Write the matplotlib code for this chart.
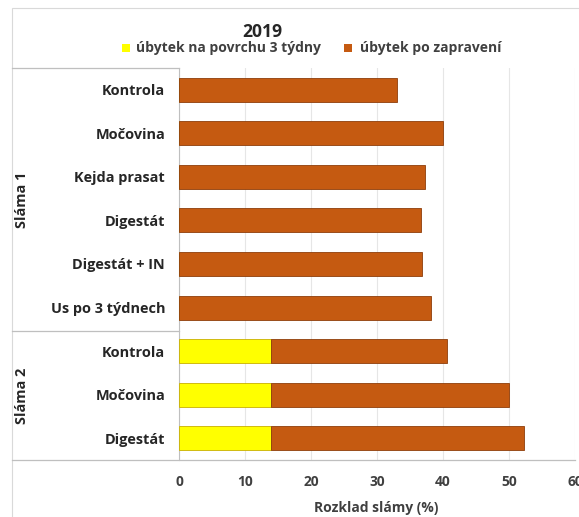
import matplotlib
matplotlib.use("Agg")
import matplotlib.pyplot as plt
from matplotlib.lines import Line2D
from matplotlib.patches import Rectangle

FAM = ['Open Sans', 'DejaVu Sans']
plt.rcParams['font.family'] = FAM

title = "2019"
categories = ["Kontrola", "Močovina", "Kejda prasat", "Digestát", "Digestát + IN",
              "Us po 3 týdnech", "Kontrola", "Močovina", "Digestát"]
groups = ["Sláma 1", "Sláma 2"]
group_sizes = [6, 3]
surface_loss = [0, 0, 0, 0, 0, 0, 13.9, 13.9, 13.9]
after_loss = [33.0, 40.0, 37.2, 36.7, 36.8, 38.2, 26.7, 36.1, 38.4]
series_names = ["úbytek na povrchu 3 týdny", "úbytek po zapravení"]
xticks = [0, 10, 20, 30, 40, 50, 60]
xlabel = "Rozklad slámy (%)"

yellow = "#FFFF00"
brown = "#C55A11"
series_colors = [yellow, brown]

W, H = 579, 517
fig = plt.figure(figsize=(W / 100, H / 100), dpi=100)
renderer = fig.canvas.get_renderer()


def fit(text, target_px, weight="bold", base=10):
    t = fig.text(0, 0, text, fontsize=base, fontweight=weight)
    w = t.get_window_extent(renderer).width
    t.remove()
    return base * target_px / w


fs_cat = fit("Us po 3 týdnech", 115)
fs_xl = fit("Rozklad slámy (%)", 124)
fs_leg = 0.5 * (fit(series_names[0], 172) + fit(series_names[1], 151))
fs_title = fit("2019", 40)
fs_grp = fit("Sláma 1", 56)
fs_tick = fs_cat * 0.95

ax = fig.add_axes([179 / W, 1 - 460 / H, (575 - 179) / W, (460 - 68) / H])

n = len(categories)
ypos = list(range(n - 1, -1, -1))
ax.barh(ypos, surface_loss, height=0.55, color=yellow, edgecolor="#C9B000", linewidth=0.6, zorder=3)
ax.barh(ypos, after_loss, left=surface_loss, height=0.55, color=brown, edgecolor="#8E3E0A",
        linewidth=0.6, zorder=3)

ax.set_xlim(0, 60)
ax.set_ylim(-0.5, n - 0.5)
ax.set_xticks(xticks)
ax.set_xticklabels([str(t) for t in xticks], fontsize=fs_tick, fontweight="bold", color="#404040")
ax.set_yticks(ypos)
ax.set_yticklabels(categories, fontsize=fs_cat, fontweight="bold", color="#262626")
ax.tick_params(axis="both", length=0)
ax.tick_params(axis="y", pad=10)
ax.tick_params(axis="x", pad=11)
ax.set_xlabel(xlabel, fontsize=fs_xl, fontweight="bold", color="#404040")
ax.xaxis.label.set_va("center")
ax.xaxis.set_label_coords(0.497, (460 - 508) / 392)
ax.grid(axis="x", color="#E6E6E6", linewidth=0.8, zorder=0)
for s in ["top", "right", "bottom"]:
    ax.spines[s].set_visible(False)
ax.spines["left"].set_color("#BFBFBF")
ax.spines["left"].set_linewidth(0.8)


def fx(px):
    return px / W


def fy(py):
    return 1 - py / H


line_color = "#BFBFBF"
for y_px, x_end in [(68, 179), (331, 179), (460, 575)]:
    fig.add_artist(Line2D([fx(12), fx(x_end)], [fy(y_px), fy(y_px)], color=line_color, linewidth=0.9))

bounds = [68, 331, 460]
for i, g in enumerate(groups):
    yc = (bounds[i] + bounds[i + 1]) / 2
    fig.text(fx(22), fy(yc), g, rotation=90, ha="center", va="center",
             fontsize=fs_grp, fontweight="bold", color="#262626")

fig.add_artist(Rectangle((fx(12), fy(600)), fx(700), fy(8) - fy(600), fill=False,
                         edgecolor="#D9D9D9", linewidth=0.8))

fig.text(fx(262), fy(32), title, ha="center", va="center", fontsize=fs_title, fontweight="bold",
         color="#262626")

# legend (drawn manually to match the reference placement)
leg_marker_x = [126, 348]
leg_text_x = [136, 360]
leg_y = 48
for name, col, mx, tx in zip(series_names, series_colors, leg_marker_x, leg_text_x):
    fig.add_artist(Rectangle((fx(mx - 4), fy(leg_y + 4)), 8 / W, 8 / H, facecolor=col,
                             edgecolor="none"))
    fig.text(fx(tx), fy(leg_y), name, ha="left", va="center", fontsize=fs_leg, fontweight="bold",
             color="#404040")

fig.savefig("out.png", dpi=100)
